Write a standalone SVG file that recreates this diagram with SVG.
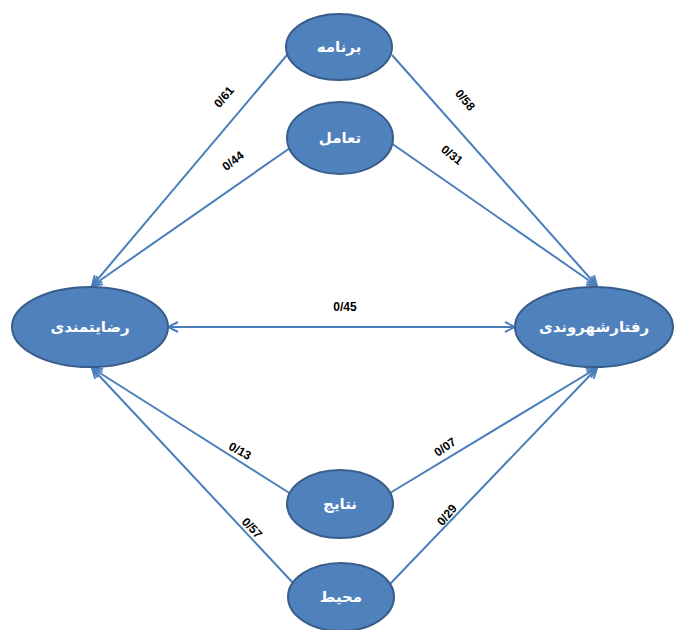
<svg xmlns="http://www.w3.org/2000/svg" width="675" height="630" viewBox="0 0 675 630">
<defs>
<marker id="arr" viewBox="0 0 12 12" refX="11" refY="6" markerWidth="12" markerHeight="12" markerUnits="userSpaceOnUse" orient="auto-start-reverse">
<path d="M1,1 L11,6 L1,11" fill="none" stroke="#4a7ebb" stroke-width="2"/>
</marker>
</defs>
<style>
.node ellipse{fill:#4f81bd;stroke:#385d8a;stroke-width:2}
.node text{fill:#ffffff;font-family:"DejaVu Sans","Noto Sans",sans-serif;font-size:15px;font-weight:bold;text-anchor:middle;dominant-baseline:central}
.edge{stroke:#4a7ebb;stroke-width:2;fill:none}
.lbl{fill:#000;font-family:"Liberation Sans",Arial,sans-serif;font-size:12px;font-weight:bold;text-anchor:middle;dominant-baseline:central}
</style>
<rect width="675" height="630" fill="#ffffff"/>
<g id="connectors">
<line class="edge" x1="287" y1="55" x2="92" y2="286" marker-end="url(#arr)"/>
<line class="edge" x1="290" y1="148" x2="92" y2="286" marker-end="url(#arr)"/>
<line class="edge" x1="392" y1="55" x2="597" y2="286" marker-end="url(#arr)"/>
<line class="edge" x1="391" y1="143" x2="597" y2="286" marker-end="url(#arr)"/>
<line class="edge" x1="168" y1="327" x2="515" y2="327" marker-start="url(#arr)" marker-end="url(#arr)"/>
<line class="edge" x1="291" y1="494" x2="92" y2="368" marker-end="url(#arr)"/>
<line class="edge" x1="294" y1="584" x2="92" y2="368" marker-end="url(#arr)"/>
<line class="edge" x1="390" y1="493" x2="597" y2="368" marker-end="url(#arr)"/>
<line class="edge" x1="390" y1="584" x2="597" y2="368" marker-end="url(#arr)"/>
<text class="lbl" transform="translate(224,97) rotate(-50)">0/61</text>
<text class="lbl" transform="translate(233,161) rotate(-38)">0/44</text>
<text class="lbl" transform="translate(465,100) rotate(50)">0/58</text>
<text class="lbl" transform="translate(452,155) rotate(38)">0/31</text>
<text class="lbl" transform="translate(345,307)">0/45</text>
<text class="lbl" transform="translate(240,451) rotate(28)">0/13</text>
<text class="lbl" transform="translate(252,528) rotate(46)">0/57</text>
<text class="lbl" transform="translate(445,447) rotate(-35)">0/07</text>
<text class="lbl" transform="translate(447,515) rotate(-50)">0/29</text>
</g>
<g id="n-barnameh" class="node"><ellipse cx="339" cy="47" rx="53" ry="33"/><text x="339" y="47">برنامه</text></g>
<g id="n-taamol" class="node"><ellipse cx="340" cy="138" rx="53" ry="36"/><text x="340" y="138">تعامل</text></g>
<g id="n-rezayat" class="node"><ellipse cx="90" cy="327" rx="78" ry="40"/><text x="90" y="327">رضایتمندی</text></g>
<g id="n-raftar" class="node"><ellipse cx="594" cy="327" rx="79" ry="40"/><text x="594" y="327">رفتارشهروندی</text></g>
<g id="n-nataej" class="node"><ellipse cx="340" cy="504" rx="53" ry="34"/><text x="340" y="504">نتایج</text></g>
<g id="n-mohit" class="node"><ellipse cx="341" cy="597" rx="53" ry="34"/><text x="341" y="597">محیط</text></g>
</svg>
